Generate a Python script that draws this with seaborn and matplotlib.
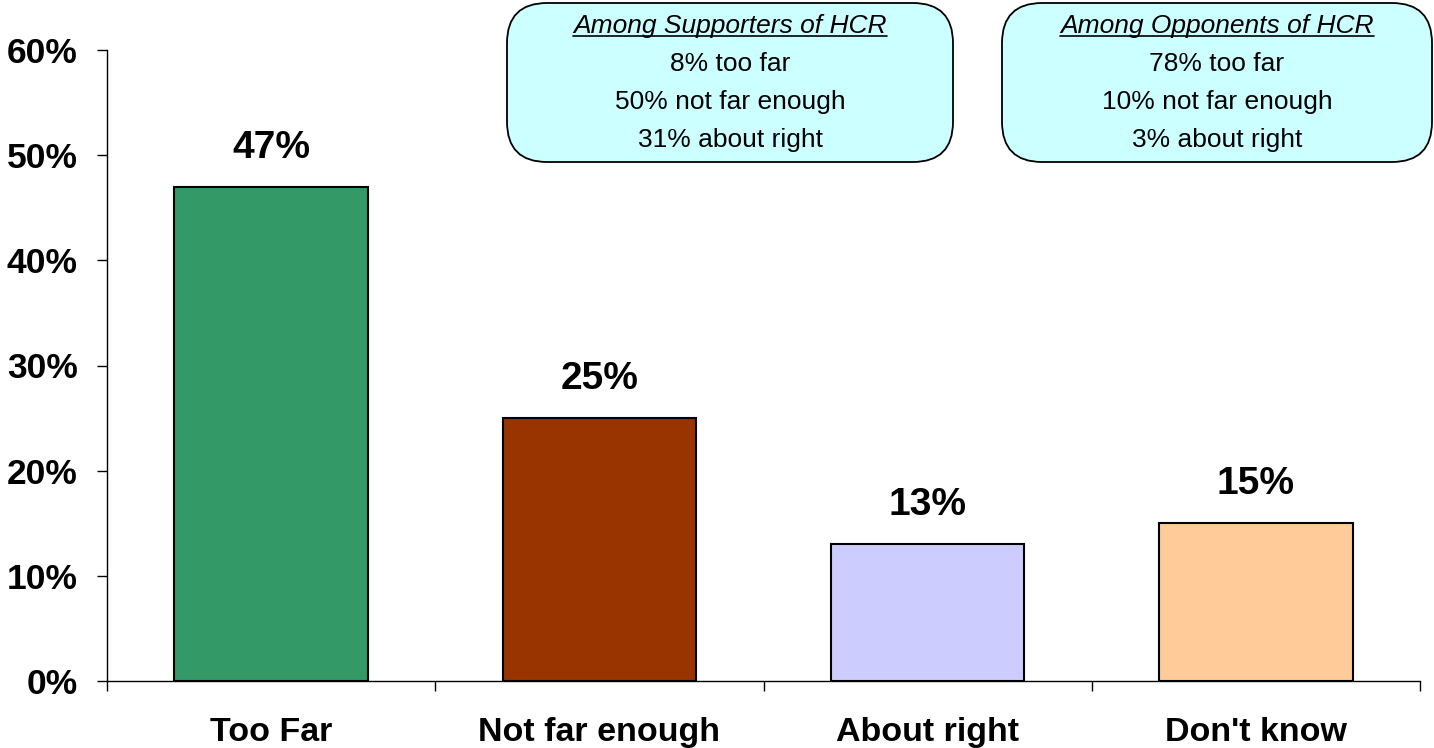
import matplotlib
matplotlib.use("Agg")
import matplotlib.pyplot as plt
import seaborn as sns
from matplotlib.patches import FancyBboxPatch
from matplotlib.lines import Line2D

# datos del grafico
categorias = ["Too Far", "Not far enough", "About right", "Don't know"]
valores = [47, 25, 13, 15]
colores = ["#339966", "#993300", "#CCCCFF", "#FFCC99"]
marcas_y = [0, 10, 20, 30, 40, 50, 60]

titulo_apoyo = "Among Supporters of HCR"
lineas_apoyo = ["8% too far", "50% not far enough", "31% about right"]
titulo_opos = "Among Opponents of HCR"
lineas_opos = ["78% too far", "10% not far enough", "3% about right"]

sns.set_style("white")
plt.rcParams["font.family"] = ["Liberation Sans", "DejaVu Sans"]
plt.rcParams["text.color"] = "black"
plt.rcParams["xtick.color"] = "black"
plt.rcParams["ytick.color"] = "black"
plt.rcParams["axes.labelcolor"] = "black"

fig = plt.figure(figsize=(14.34, 7.48), dpi=100)
ax = fig.add_axes([107 / 1434, 67 / 748, 1313 / 1434, 631 / 748])

sns.barplot(x=categorias, y=valores, hue=categorias, palette=colores, legend=False,
            width=0.59, edgecolor="black", linewidth=1.5, saturation=1, ax=ax)

for cont in ax.containers:
    ax.bar_label(cont, labels=[f"{v:.0f}%" for v in cont.datavalues],
                 padding=15, fontsize=28, fontweight="bold", color="black")

ax.set_ylim(0, 60)
ax.set_xlim(-0.5, 3.5)
ax.set_yticks(marcas_y)
ax.set_yticklabels([f"{v}%" for v in marcas_y], fontsize=25.5, fontweight="bold")
ax.tick_params(axis="y", direction="out", length=7, width=1, left=True, pad=14)
ax.tick_params(axis="x", which="major", length=0, pad=26, labelsize=24.5)
for t in ax.get_xticklabels():
    t.set_fontweight("bold")
ax.set_xticks([-0.5, 0.5, 1.5, 2.5, 3.5], minor=True)
ax.tick_params(axis="x", which="minor", direction="out", length=7, width=1, bottom=True)
ax.set_xlabel("")
ax.set_ylabel("")

for s in ["top", "right"]:
    ax.spines[s].set_visible(False)
for s in ["left", "bottom"]:
    ax.spines[s].set_color("black")
    ax.spines[s].set_linewidth(1)

# cuadros con resultados por grupo
def cuadro(x0, x1, titulo, lineas):
    W, H = 1434, 748
    y0, y1 = 3, 162
    caja = FancyBboxPatch((x0 / W, 1 - y1 / H), (x1 - x0) / W, (y1 - y0) / H,
                          boxstyle="round,pad=0,rounding_size=0.028",
                          mutation_aspect=W / H,
                          transform=fig.transFigure, facecolor="#CCFFFF",
                          edgecolor="black", linewidth=1.3)
    fig.patches.append(caja)
    xc = (x0 + x1) / 2 / W
    t = fig.text(xc, 1 - 26 / H, titulo, ha="center", va="center",
                 fontsize=19, fontstyle="italic")
    fig.canvas.draw()
    bb = t.get_window_extent().transformed(fig.transFigure.inverted())
    fig.lines.append(Line2D([bb.x0, bb.x1], [bb.y0 + 2 / H, bb.y0 + 2 / H],
                            transform=fig.transFigure, color="black", linewidth=1.2))
    for i, linea in enumerate(lineas):
        fig.text(xc, 1 - (64 + 38 * i) / H, linea, ha="center", va="center", fontsize=19)

cuadro(507, 953, titulo_apoyo, lineas_apoyo)
cuadro(1002, 1432, titulo_opos, lineas_opos)

fig.savefig("out.png", dpi=100)
